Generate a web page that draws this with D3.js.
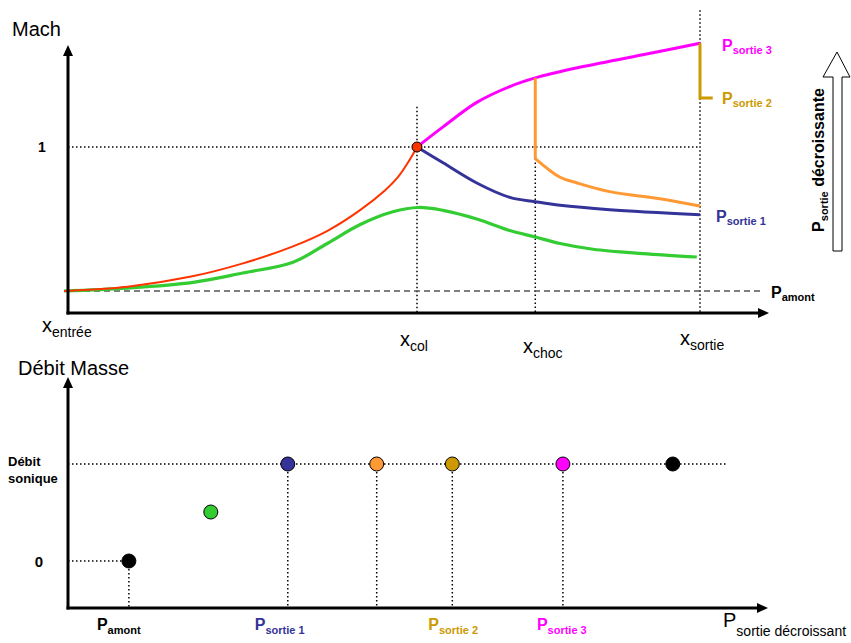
<!DOCTYPE html>
<html><head><meta charset="utf-8">
<script src="https://cdn.jsdelivr.net/npm/d3@7"></script>
<style>
html,body{margin:0;padding:0;background:#fff;}
svg{display:block;font-family:"Liberation Sans",Arial,sans-serif;}
</style></head>
<body><svg id="c" width="851" height="643"></svg>
<script>
// ---------- DATA (top: Mach vs nozzle position, x in % of nozzle length) ----------
const xEntree = 0, xCol = 55.5, xChoc = 74.1, xSortie = 100;
const redX   = [0, 10, 20, 28, 36, 41.5, 46.5, 50.5, 52.5, 54.2, 55.5];
const redM   = [0, 0.03, 0.10, 0.19, 0.31, 0.42, 0.56, 0.70, 0.79, 0.90, 1.0];
const greenX = [0, 9.9, 20.3, 28.1, 36.0, 41.4, 46.5, 51.7, 55.7, 59.6, 64.9, 70.1, 74.1, 78.0, 83.2, 91.0, 99.5];
const greenM = [0, 0.02, 0.06, 0.125, 0.20, 0.33, 0.46, 0.55, 0.58, 0.56, 0.50, 0.42, 0.375, 0.33, 0.29, 0.26, 0.236];
const blueX  = [55.5, 59.6, 64.9, 70.1, 74.1, 78.0, 85.8, 100];
const blueM  = [1.0, 0.89, 0.75, 0.65, 0.62, 0.595, 0.565, 0.53];
const magX   = [55.5, 59.6, 64.9, 70.1, 74.1, 80.7, 91.0, 100];
const magM   = [1.0, 1.14, 1.31, 1.42, 1.48, 1.55, 1.64, 1.72];
const orangeX = [74.1, 74.1, 78.0, 80.7, 85.8, 93.7, 100];
const orangeM = [1.48, 0.92, 0.79, 0.75, 0.69, 0.64, 0.59];
const goldX  = [100, 100, 102];
const goldM  = [1.72, 1.34, 1.34];
// ---------- DATA (bottom: mass flow vs decreasing exit pressure) ----------
const flowNames = ["P amont", "intermédiaire", "P sortie 1", "choc", "P sortie 2", "P sortie 3", "P sortie min"];
const flowP     = [8.7, 20.4, 31.4, 44.1, 54.9, 70.7, 86.4];
const flowQ     = [0, 0.505, 1, 1, 1, 1, 1];
const flowColors = ["#000000", "#33CC33", "#333399", "#FF9933", "#CC9900", "#FF00FF", "#000000"];

const svg = d3.select("#c");
const font = '"Liberation Sans",Arial,sans-serif';

// ---------- TOP CHART ----------
const x = d3.scaleLinear().domain([0, 100]).range([64, 700]);
const y = d3.scaleLinear().domain([0, 1]).range([291, 147]);
const axX = 68, axY = 313;

function arrowHead(g, px, py, dir){
  const s = 5, L = 11;
  let pts;
  if (dir === "up") pts = [[px, py], [px - s, py + L], [px + s, py + L]];
  else pts = [[px, py], [px - L, py - s], [px - L, py + s]];
  g.append("path").attr("d", "M" + pts.map(p => p.join(",")).join("L") + "Z").attr("fill", "#000");
}
const topG = svg.append("g");
const dotted = "1.5,2.5";
topG.append("line").attr("x1", axX).attr("x2", x(xSortie)).attr("y1", y(1)).attr("y2", y(1))
  .attr("stroke", "#000").attr("stroke-width", 1.5).attr("stroke-dasharray", dotted);
topG.append("line").attr("x1", x(xCol)).attr("x2", x(xCol)).attr("y1", y(1.28)).attr("y2", axY)
  .attr("stroke", "#000").attr("stroke-width", 1.5).attr("stroke-dasharray", dotted);
topG.append("line").attr("x1", x(xChoc)).attr("x2", x(xChoc)).attr("y1", y(0.92)).attr("y2", axY)
  .attr("stroke", "#000").attr("stroke-width", 1.5).attr("stroke-dasharray", dotted);
topG.append("line").attr("x1", x(xSortie)).attr("x2", x(xSortie)).attr("y1", y(1.95)).attr("y2", axY)
  .attr("stroke", "#000").attr("stroke-width", 1.5).attr("stroke-dasharray", dotted);
topG.append("line").attr("x1", x(0)).attr("x2", 760).attr("y1", y(0)).attr("y2", y(0))
  .attr("stroke", "#555").attr("stroke-width", 1.5).attr("stroke-dasharray", "6,4");

const line = d3.line().x(d => x(d[0])).y(d => y(d[1])).curve(d3.curveCatmullRom.alpha(0.5));
const lineLin = d3.line().x(d => x(d[0])).y(d => y(d[1]));
const zip = (a, b) => a.map((v, i) => [v, b[i]]);
topG.append("path").attr("d", line(zip(greenX, greenM))).attr("fill", "none").attr("stroke", "#33CC33").attr("stroke-width", 3.2);
topG.append("path").attr("d", line(zip(redX, redM))).attr("fill", "none").attr("stroke", "#FF3300").attr("stroke-width", 2);
topG.append("path").attr("d", line(zip(blueX, blueM))).attr("fill", "none").attr("stroke", "#333399").attr("stroke-width", 3);
topG.append("path").attr("d", line(zip(magX, magM))).attr("fill", "none").attr("stroke", "#FF00FF").attr("stroke-width", 3);
const oPts = zip(orangeX, orangeM);
topG.append("path").attr("d", lineLin(oPts.slice(0, 2))).attr("fill", "none").attr("stroke", "#FF9933").attr("stroke-width", 3);
topG.append("path").attr("d", line(oPts.slice(1))).attr("fill", "none").attr("stroke", "#FF9933").attr("stroke-width", 3);
topG.append("path").attr("d", lineLin(zip(goldX, goldM))).attr("fill", "none").attr("stroke", "#CC9900").attr("stroke-width", 3);
topG.append("circle").attr("cx", x(xCol)).attr("cy", y(1)).attr("r", 5).attr("fill", "#FF3300").attr("stroke", "#000").attr("stroke-width", 1);

topG.append("line").attr("x1", axX).attr("x2", axX).attr("y1", axY + 1.5).attr("y2", 52).attr("stroke", "#000").attr("stroke-width", 3);
arrowHead(topG, axX, 45, "up");
topG.append("line").attr("x1", axX - 1.5).attr("x2", 760).attr("y1", axY).attr("y2", axY).attr("stroke", "#000").attr("stroke-width", 3);
arrowHead(topG, 769, axY, "right");

function subLabel(g, px, py, main, sub, color, mainSize, subSize, weight, dy){
  const t = g.append("text").attr("x", px).attr("y", py).attr("fill", color)
    .attr("font-weight", weight).attr("font-family", font);
  t.append("tspan").attr("font-size", mainSize).text(main);
  t.append("tspan").attr("font-size", subSize).attr("dy", dy).text(sub);
  return t;
}
topG.append("text").attr("x", 12).attr("y", 36).attr("font-size", 20).text("Mach");
topG.append("text").attr("x", 42).attr("y", y(1) + 5).attr("font-size", 14).attr("font-weight", "bold").attr("text-anchor", "middle").text("1");
subLabel(topG, 42, 332, "x", "entrée", "#000", 20, 14, "normal", 5);
subLabel(topG, 400, 346, "x", "col", "#000", 20, 14, "normal", 5);
subLabel(topG, 523, 353, "x", "choc", "#000", 20, 14, "normal", 5);
subLabel(topG, 680, 345, "x", "sortie", "#000", 20, 14, "normal", 5);
subLabel(topG, 722, 51, "P", "sortie 3", "#FF00FF", 16, 11, "bold", 3);
subLabel(topG, 722, 104, "P", "sortie 2", "#CC9900", 16, 11, "bold", 3);
subLabel(topG, 716, 222, "P", "sortie 1", "#333399", 16, 11, "bold", 3);
subLabel(topG, 771, 298, "P", "amont", "#000", 16, 11, "bold", 3);

topG.append("path").attr("d", "M833,251 L833,77 L823,77 L837,52 L850,77 L842,77 L842,251 Z")
  .attr("fill", "#fff").attr("stroke", "#000").attr("stroke-width", 1);
const rt = topG.append("text").attr("transform", "translate(824,160) rotate(-90)")
  .attr("text-anchor", "middle").attr("font-weight", "bold").attr("fill", "#000");
rt.append("tspan").attr("font-size", 16).text("P");
rt.append("tspan").attr("font-size", 11).attr("dy", 4).text("sortie");
rt.append("tspan").attr("font-size", 16).attr("dy", -4).text(" décroissante");

// ---------- BOTTOM CHART ----------
const xb = d3.scaleLinear().domain([0, 100]).range([68, 768]);
const yb = d3.scaleLinear().domain([0, 1]).range([561, 464]);
const bAxY = 608;
const bot = svg.append("g");
bot.append("line").attr("x1", axX).attr("x2", 727).attr("y1", yb(1)).attr("y2", yb(1))
  .attr("stroke", "#000").attr("stroke-width", 1.5).attr("stroke-dasharray", dotted);
bot.append("line").attr("x1", axX).attr("x2", xb(flowP[0])).attr("y1", yb(0)).attr("y2", yb(0))
  .attr("stroke", "#000").attr("stroke-width", 1.5).attr("stroke-dasharray", dotted);
const dropIdx = [0, 2, 3, 4, 5];
dropIdx.forEach(i => {
  bot.append("line").attr("x1", xb(flowP[i])).attr("x2", xb(flowP[i])).attr("y1", yb(flowQ[i])).attr("y2", bAxY)
    .attr("stroke", "#000").attr("stroke-width", 1.5).attr("stroke-dasharray", dotted);
});
bot.selectAll("circle.pt").data(flowP).enter().append("circle").attr("class", "pt")
  .attr("cx", d => xb(d)).attr("cy", (d, i) => yb(flowQ[i])).attr("r", 7)
  .attr("fill", (d, i) => flowColors[i]).attr("stroke", "#000").attr("stroke-width", 1);

bot.append("line").attr("x1", axX).attr("x2", axX).attr("y1", bAxY + 1.5).attr("y2", 384).attr("stroke", "#000").attr("stroke-width", 3);
arrowHead(bot, axX, 377, "up");
bot.append("line").attr("x1", axX - 1.5).attr("x2", 760).attr("y1", bAxY).attr("y2", bAxY).attr("stroke", "#000").attr("stroke-width", 3);
arrowHead(bot, 768, bAxY, "right");

bot.append("text").attr("x", 18).attr("y", 375).attr("font-size", 20).text("Débit Masse");
bot.append("text").attr("x", 8).attr("y", 466).attr("font-size", 13).attr("font-weight", "bold").text("Débit");
bot.append("text").attr("x", 8).attr("y", 483).attr("font-size", 13).attr("font-weight", "bold").text("sonique");
bot.append("text").attr("x", 39).attr("y", yb(0) + 6).attr("font-size", 15).attr("font-weight", "bold").attr("text-anchor", "middle").text("0");

const labelOffsets = [[0, -32, "P", "amont"], [2, -33, "P", "sortie 1"], [4, -24, "P", "sortie 2"], [5, -26, "P", "sortie 3"]];
labelOffsets.forEach(([i, off, m, s]) => {
  subLabel(bot, xb(flowP[i]) + off, 630, m, s, flowColors[i], 16, 11, "bold", 4);
});
subLabel(bot, 723, 627, "P", "sortie décroissant", "#000", 20, 14, "normal", 9);
</script></body></html>
